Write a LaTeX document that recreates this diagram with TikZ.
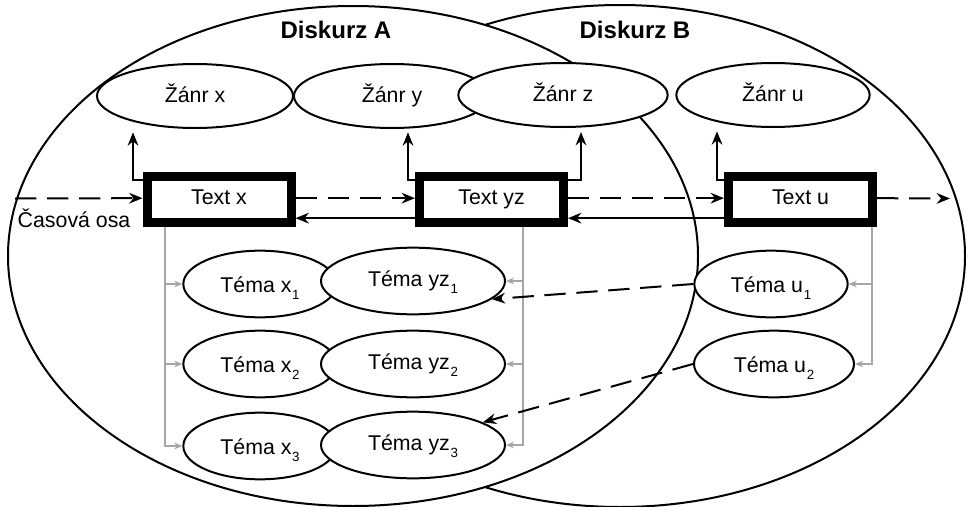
\documentclass[tikz,border=0pt]{standalone}
\usepackage{fontspec}
\setmainfont{Liberation Sans}
\usetikzlibrary{shapes.geometric,arrows.meta}
\newcommand{\idx}[1]{\kern0.5pt\raisebox{-5pt}{\fontsize{10}{10}\selectfont #1}}
\tikzset{
  zanr/.style={ellipse,draw,fill=white,line width=1.5pt,inner sep=0pt,minimum width=147pt,minimum height=48pt,text height=14pt,text depth=5pt},
  tema/.style={ellipse,draw,fill=white,line width=1.5pt,inner sep=0pt,minimum width=115pt,minimum height=50pt,text height=15pt,text depth=2pt},
  temayz/.style={tema,minimum width=138pt,text depth=7pt},
  textbox/.style={rectangle,draw,fill=white,line width=6.75pt,inner sep=0pt,minimum width=108pt,minimum height=34.5pt,text height=11.5pt,text depth=3.3pt},
  sipka/.style={line width=1.5pt,-{Stealth[length=10pt,width=8pt]}},
  cas/.style={sipka,dash pattern=on 16pt off 8pt},
  tema sipka/.style={line width=1.5pt,black!35,-{Stealth[length=6pt,width=5pt]}}
}
\begin{document}
\begin{tikzpicture}[x=0.75pt,y=-0.75pt,font=\fontsize{16}{19}\selectfont]
                \useasboundingbox (0,0) rectangle (968,507);
                % diskurzy
                \draw[line width=1.5pt,fill=white] (620,256) ellipse [x radius=345,y radius=251];
                \draw[line width=1.5pt,fill=white] (353,256) ellipse [x radius=345,y radius=250];
                \node[font=\fontsize{18}{21}\selectfont\bfseries,anchor=base] (da) at (336,38.5) {Diskurz A};
                \node[font=\fontsize{18}{21}\selectfont\bfseries,anchor=base] (db) at (635,38.5) {Diskurz B};

                % zanry
                \node[zanr] (zx) at (195,96) {Žánr x};
                \node[zanr] (zy) at (392,96) {Žánr y};
                \node[zanr,minimum width=157pt] (zz) at (563,95) {Žánr z};
                \node[zanr,minimum width=145pt] (zu) at (773,95) {Žánr u};

                % texty
                \node[textbox] (tx) at (219,199.5) {Text x};
                \node[textbox] (tyz) at (491.5,199.5) {Text yz};
                \node[textbox] (tu) at (800.5,199.5) {Text u};

                % temata
                \node[tema] (tx1) at (260,284) {Téma x\idx{1}};
                \node[tema] (tx2) at (260,364) {Téma x\idx{2}};
                \node[tema] (tx3) at (260,446) {Téma x\idx{3}};
                \node[temayz] (tyz1) at (413,281) {Téma yz\idx{1}};
                \node[temayz] (tyz2) at (413,364) {Téma yz\idx{2}};
                \node[temayz] (tyz3) at (413,445) {Téma yz\idx{3}};
                \node[tema] (tu1) at (771,284) {Téma u\idx{1}};
                \node[tema,minimum width=120pt] (tu2) at (774,364) {Téma u\idx{2}};

                % text -> zanr
                \draw[sipka] ([yshift=-6pt]tx.north west) -| ([xshift=-46.5pt,yshift=-2.5pt]zx.south);
                \draw[sipka] ([yshift=-6pt]tyz.north west) -| ([xshift=12pt,yshift=-2.5pt]zy.south);
                \draw[sipka] ([yshift=-6pt]tyz.north east) -| ([xshift=13.5pt,yshift=-3pt]zz.south);
                \draw[sipka] ([yshift=-6pt]tu.north west) -| ([xshift=-42pt,yshift=-2.5pt]zu.south);

                % casova osa
                \coordinate (osa) at (15,198.5);
                \coordinate (konec) at (950,198.5);
                \node[anchor=base west] (osalabel) at (13,227) {Časová osa};
                \draw[cas] (osa) -- ([yshift=1pt]tx.west);
                \draw[cas] ([yshift=1pt]tx.east) -- ([yshift=1pt]tyz.west);
                \draw[cas] ([yshift=1pt]tyz.east) -- ([yshift=1pt]tu.west);
                \draw[cas] ([yshift=1pt]tu.east) -- (konec);
                \draw[sipka] ([yshift=-14pt]tyz.west) -- ([yshift=-14pt]tx.east);
                \draw[sipka] ([yshift=-14pt]tu.west) -- ([yshift=-14pt]tyz.east);

                % text -> temata
                \coordinate (vx) at ([xshift=17pt]tx.south west);
                \coordinate (vyz) at ([xshift=-34pt]tyz.south east);
                \coordinate (vu) at ([xshift=-4pt]tu.south east);
                \draw[tema sipka] (vx) |- (tx1.west);
                \draw[tema sipka] (vx) |- (tx2.west);
                \draw[tema sipka] (vx) |- (tx3.west);
                \draw[tema sipka] (vyz) |- (tyz1.east);
                \draw[tema sipka] (vyz) |- (tyz2.east);
                \draw[tema sipka] (vyz) |- (tyz3.east);
                \draw[tema sipka] (vu) |- (tu1.east);
                \draw[tema sipka] (vu) |- (tu2.east);

                % prevzata temata
                \draw[cas] (tu1.west) -- (tyz1.-13);
                \draw[cas] (tu2.west) -- (tyz3.18);
            \end{tikzpicture}
\end{document}
